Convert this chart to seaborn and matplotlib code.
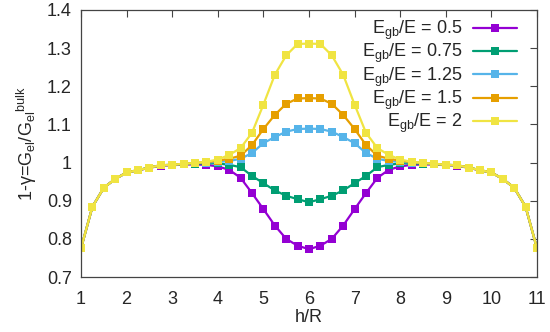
import numpy as np
import pandas as pd
import matplotlib
matplotlib.use("Agg")
import matplotlib.pyplot as plt
import seaborn as sns

# h/R positions
h_over_r = np.arange(1.0, 11.001, 0.25)

g_05 = [0.775, 0.884, 0.934, 0.957, 0.974, 0.980, 0.986, 0.992, 0.993, 0.995, 0.995, 0.994,
        0.990, 0.981, 0.960, 0.920, 0.878, 0.835, 0.800, 0.782, 0.773,
        0.782, 0.800, 0.835, 0.878, 0.920, 0.960, 0.981, 0.990,
        0.994, 0.995, 0.995, 0.993, 0.992, 0.986, 0.980, 0.974, 0.957, 0.934, 0.884, 0.775]
g_075 = [0.775, 0.884, 0.934, 0.957, 0.974, 0.980, 0.987, 0.993, 0.994, 0.996, 0.997, 0.998,
         0.998, 0.994, 0.988, 0.965, 0.946, 0.927, 0.913, 0.904, 0.896,
         0.904, 0.913, 0.927, 0.946, 0.965, 0.988, 0.994, 0.998,
         0.998, 0.997, 0.996, 0.994, 0.993, 0.987, 0.980, 0.974, 0.957, 0.934, 0.884, 0.775]
g_125 = [0.775, 0.884, 0.934, 0.957, 0.974, 0.980, 0.987, 0.993, 0.994, 0.997, 0.999, 1.000,
         1.002, 1.004, 1.010, 1.025, 1.051, 1.067, 1.081, 1.088, 1.089,
         1.088, 1.081, 1.067, 1.051, 1.025, 1.010, 1.004, 1.002,
         1.000, 0.999, 0.997, 0.994, 0.993, 0.987, 0.980, 0.974, 0.957, 0.934, 0.884, 0.775]
g_15 = [0.775, 0.884, 0.934, 0.957, 0.974, 0.980, 0.987, 0.993, 0.994, 0.997, 0.999, 1.001,
        1.005, 1.010, 1.018, 1.046, 1.088, 1.125, 1.154, 1.168, 1.169,
        1.168, 1.154, 1.125, 1.088, 1.046, 1.018, 1.010, 1.005,
        1.001, 0.999, 0.997, 0.994, 0.993, 0.987, 0.980, 0.974, 0.957, 0.934, 0.884, 0.775]
g_2 = [0.775, 0.884, 0.934, 0.957, 0.974, 0.980, 0.987, 0.993, 0.994, 0.997, 0.999, 1.002,
       1.008, 1.020, 1.038, 1.078, 1.152, 1.230, 1.281, 1.311, 1.312,
       1.311, 1.281, 1.230, 1.152, 1.078, 1.038, 1.020, 1.008,
       1.002, 0.999, 0.997, 0.994, 0.993, 0.987, 0.980, 0.974, 0.957, 0.934, 0.884, 0.775]

labels = [r"E$_{\mathrm{gb}}$/E = 0.5", r"E$_{\mathrm{gb}}$/E = 0.75",
          r"E$_{\mathrm{gb}}$/E = 1.25", r"E$_{\mathrm{gb}}$/E = 1.5",
          r"E$_{\mathrm{gb}}$/E = 2"]
colors = ["#9400D3", "#009E73", "#56B4E9", "#E69F00", "#F0E442"]
x_ticks = list(range(1, 12))
y_ticks = [0.7, 0.8, 0.9, 1.0, 1.1, 1.2, 1.3, 1.4]
y_ticklabels = ["0.7", "0.8", "0.9", "1", "1.1", "1.2", "1.3", "1.4"]

series = [g_05, g_075, g_125, g_15, g_2]
df = pd.concat([pd.DataFrame({"h": h_over_r, "g": s, "case": lab})
                for s, lab in zip(series, labels)], ignore_index=True)

sns.set_style("white")
plt.rcParams["font.family"] = ["Liberation Sans", "DejaVu Sans"]
plt.rcParams["mathtext.fontset"] = "custom"
plt.rcParams["mathtext.rm"] = "Liberation Sans"
plt.rcParams["mathtext.it"] = "Liberation Sans:italic"
fs = 13

fig = plt.figure(figsize=(5.5, 3.32), dpi=100)
ax = fig.add_axes([81 / 550, 1 - 277 / 332, (537 - 81) / 550, (277 - 10) / 332])

sns.lineplot(data=df, x="h", y="g", hue="case", hue_order=labels,
             palette=colors, marker="s", markersize=5.5, markeredgewidth=0,
             linewidth=1.6, ax=ax, legend=True)

ax.set_xlim(1, 11)
ax.set_ylim(0.7, 1.4)
ax.set_xticks(x_ticks)
ax.set_yticks(y_ticks)
ax.set_yticklabels(y_ticklabels)
ax.tick_params(direction="in", top=True, right=True, length=5, width=0.8,
               color="#444444", labelsize=fs)
ax.tick_params(axis="x", labeltop=False, pad=10)
ax.tick_params(axis="y", labelright=False, pad=6.5)
for sp in ax.spines.values():
    sp.set_color("#444444")
    sp.set_linewidth(0.9)

ax.set_xlabel("h/R", fontsize=fs, labelpad=1)
ax.set_ylabel(r"1-γ=G$_{\mathrm{el}}$/G$_{\mathrm{el}}$${}^{\mathrm{bulk}}$",
              fontsize=fs, labelpad=6)

leg = ax.legend(loc="upper right", markerfirst=False, frameon=False,
                handlelength=2.45, handletextpad=0.55, labelspacing=0.0,
                borderaxespad=0, borderpad=0, fontsize=fs,
                bbox_to_anchor=(0.956, 0.966))

fig.savefig("out.png", dpi=100)
